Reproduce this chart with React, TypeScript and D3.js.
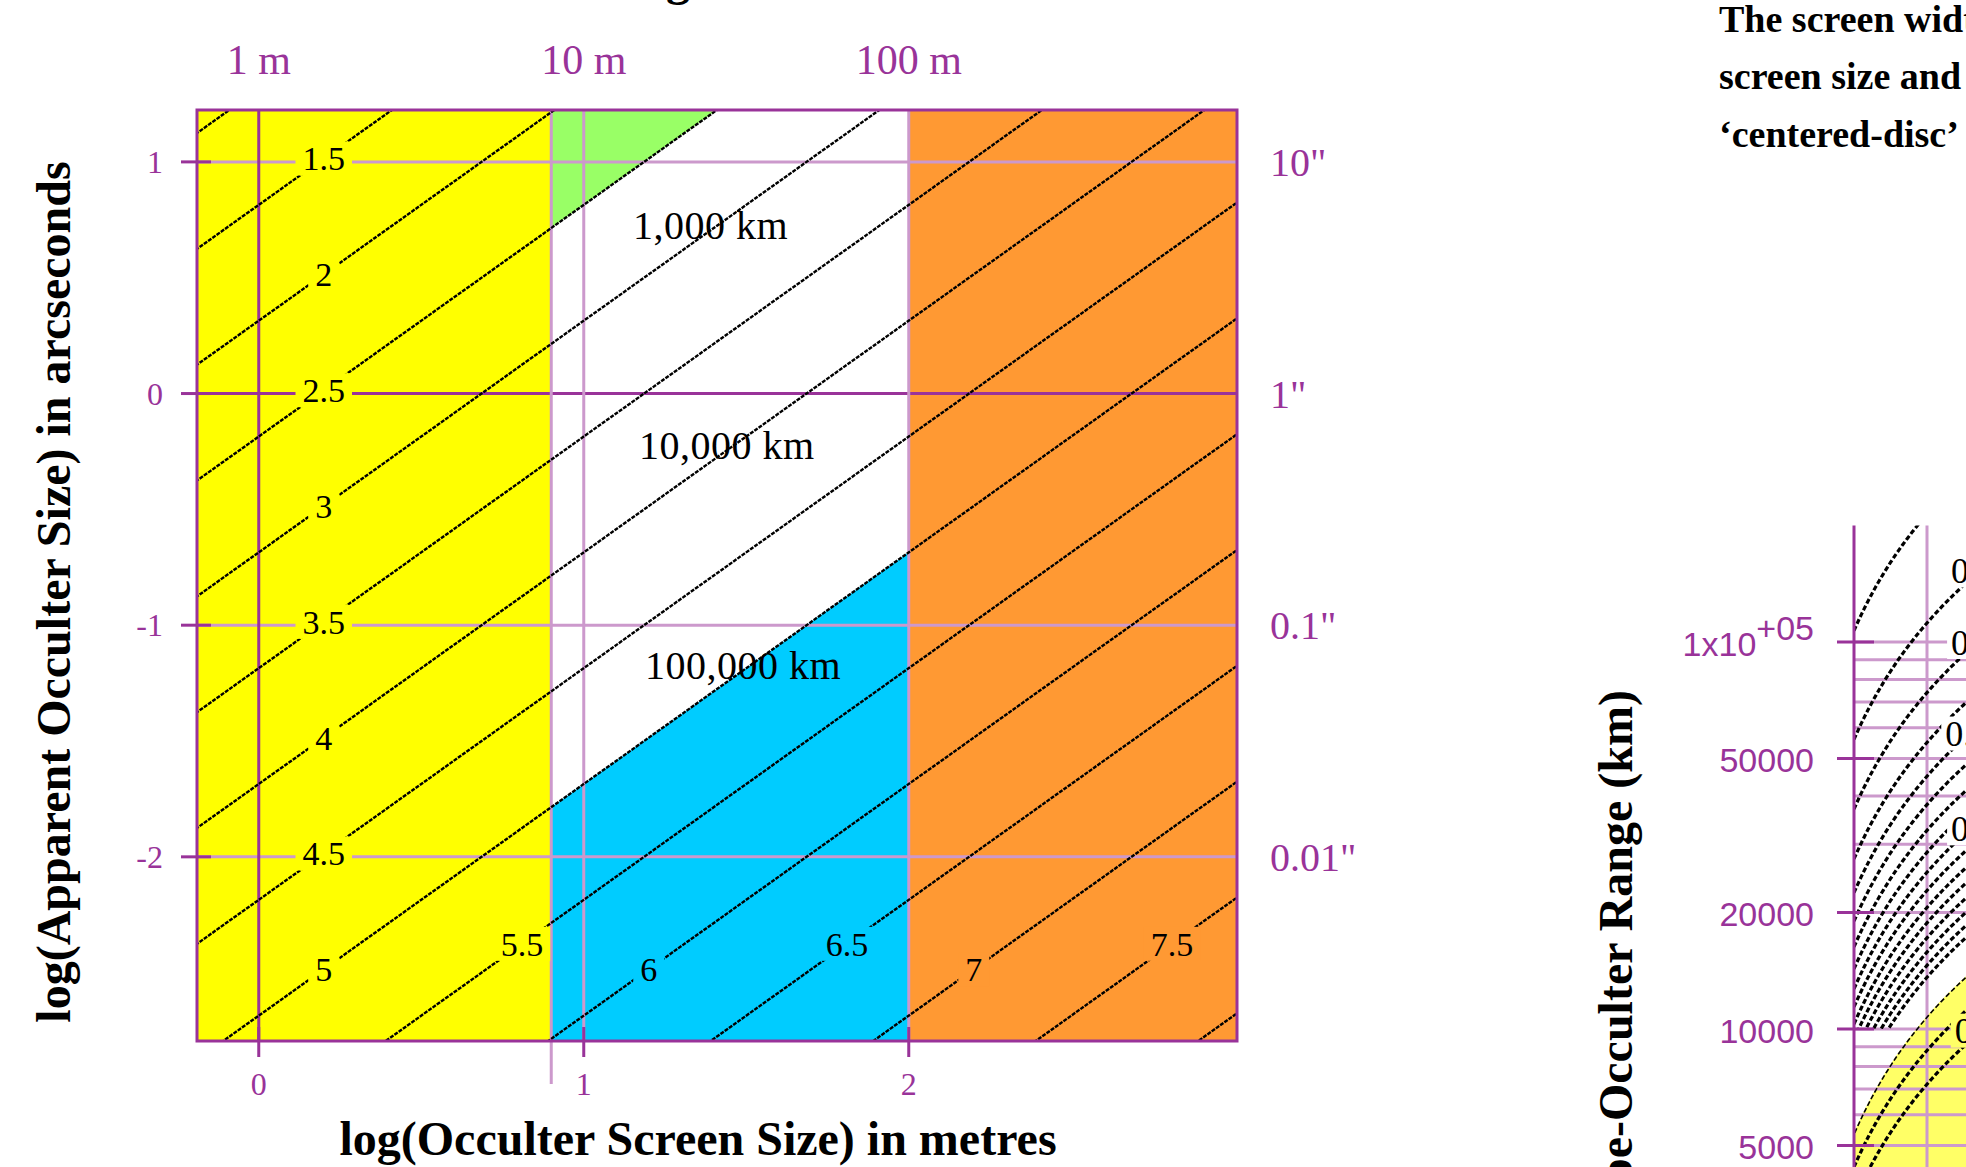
import React from "react";
import * as d3 from "d3";

const W = 1966;
const H = 1167;

// ---------------- colours ----------------
const PURPLE = "#993399";
const LILAC = "#cc99cc";
const YELLOW = "#ffff00";
const GREEN = "#99ff66";
const BLUE = "#00ccff";
const ORANGE = "#ff9933";
const PALE_YELLOW = "#ffff66";

// ---------------- left chart data ----------------
// x: log10(occulter screen size, m); y: log10(apparent size, arcsec)
const sizeLogDomain = [-0.19, 3.01];
const angleLogDomain = [-2.795, 1.224];
const sizeTicks = [0, 1, 2];
const sizeTickLabels = ["0", "1", "2"];
const sizeTopLabels = ["1 m", "10 m", "100 m"];
const angleTicks = [1, 0, -1, -2];
const angleTickLabels = ["1", "0", "-1", "-2"];
const angleRightLabels = ['10"', '1"', '0.1"', '0.01"'];
// contour levels: log10(range in km)
const rangeLevels = [1, 1.5, 2, 2.5, 3, 3.5, 4, 4.5, 5, 5.5, 6, 6.5, 7, 7.5, 8];
const ARCSEC_PER_RAD_KM = Math.log10(206264.8 / 1000);
const levelLabelValues = [1.5, 2, 2.5, 3, 3.5, 4, 4.5, 5, 5.5, 6, 6.5, 7, 7.5];
const levelLabelTexts = ["1.5", "2", "2.5", "3", "3.5", "4", "4.5", "5", "5.5", "6", "6.5", "7", "7.5"];
const levelLabelSize = [0.2, 0.2, 0.2, 0.2, 0.2, 0.2, 0.2, 0.2, 0.81, 1.2, 1.81, 2.2, 2.81];
const zoneEdges = [0.9, 2];
const greenLevel = 2.5;
const blueLevel = 5;
const bandLabels = ["1,000 km", "10,000 km", "100,000 km"];
const bandLevels = [3, 4, 5];
const bandLabelSize = [1.39, 1.44, 1.49];

// ---------------- right (partial) chart data ----------------
const rangeTicks = [100000, 50000, 20000, 10000, 5000];
const rangeTickMain = ["1x10", "50000", "20000", "10000", "5000"];
const rangeTickSup = ["+05", "", "", "", ""];
const rangeMinor = [5000, 6000, 7000, 8000, 9000, 10000, 20000, 30000, 40000, 50000, 60000, 70000, 80000, 90000, 100000];
const curveK = [107000, 56000, 37000, 27500, 22500, 19000, 16300, 14300, 12700, 11400, 10300, 9400, 8600, 7900, 7300, 6800];
const yellowEdgeK = 5400;
const yellowCurveK = [5400, 4400, 3600];
const edgeLabelText = ["0.05", "0.1", "0.15", "0.2", "0.5"];
const edgeLabelS = [2.33, 2.33, 2.25, 2.33, 2.38];
const edgeLabelR = [153000, 100000, 58000, 33000, 9900];

const SERIF = "'Liberation Serif', 'Times New Roman', serif";
const SANS = "'Liberation Sans', Arial, sans-serif";

function labelWidth(t: string, fs: number) {
  let w = 0;
  for (const c of t) w += c === "." || c === "," || c === " " ? 0.25 : c === "m" ? 0.78 : 0.5;
  return w * fs;
}

export default function App() {
  // ---- left chart scales ----
  const PL = 197, PR = 1237, PT = 110, PB = 1041;
  const x = d3.scaleLinear().domain(sizeLogDomain).range([PL, PR]);
  const y = d3.scaleLinear().domain(angleLogDomain).range([PB, PT]);
  const [sx0, sx1] = sizeLogDomain;
  const [ay0, ay1] = angleLogDomain;
  const lineY = (s: number, L: number) => s - L + ARCSEC_PER_RAD_KM;
  const path = d3
    .line<[number, number]>()
    .x((d) => x(d[0]))
    .y((d) => y(d[1]));

  const zoneColor = (s: number, a: number) => {
    if (s < zoneEdges[0]) return YELLOW;
    if (s >= zoneEdges[1]) return ORANGE;
    if (a > lineY(s, greenLevel)) return GREEN;
    if (a < lineY(s, blueLevel)) return BLUE;
    return "#ffffff";
  };

  const yellowPoly: [number, number][] = [
    [sx0, ay0], [zoneEdges[0], ay0], [zoneEdges[0], ay1], [sx0, ay1],
  ];
  const greenPoly: [number, number][] = [
    [zoneEdges[0], lineY(zoneEdges[0], greenLevel)],
    [zoneEdges[1], lineY(zoneEdges[1], greenLevel)],
    [zoneEdges[1], ay1 + 2], [zoneEdges[0], ay1 + 2],
  ];
  const bluePoly: [number, number][] = [
    [zoneEdges[0], lineY(zoneEdges[0], blueLevel)],
    [zoneEdges[1], lineY(zoneEdges[1], blueLevel)],
    [zoneEdges[1], ay0], [zoneEdges[0], ay0],
  ];
  const orangePoly: [number, number][] = [
    [zoneEdges[1], ay0], [sx1, ay0], [sx1, ay1], [zoneEdges[1], ay1],
  ];

  const labelFs = 34;
  const bandFs = 40;

  // ---- right chart scales ----
  const xR = d3.scaleLinear().domain([0, 2]).range([1781, 1927]);
  const yR = d3.scaleLog().domain([100000, 10000]).range([642, 1029]);
  const rTop = 200000;
  const sMax = 3;
  const sSamples = d3.range(0, 61).map((i) => 1 + (i * (sMax - 1)) / 60);
  const rPath = d3
    .line<[number, number]>()
    .x((d) => xR(d[0]))
    .y((d) => yR(d[1]));
  const whiteClip: [number, number][] = [
    [1, rTop], [sMax, rTop],
    ...sSamples.slice().reverse().map((s) => [s, Math.max(10000, yellowEdgeK * s)] as [number, number]),
  ];
  const yellowArea: [number, number][] = [
    ...sSamples.map((s) => [s, yellowEdgeK * s] as [number, number]),
    [sMax, 2000], [1, 2000],
  ];

  return (
    <svg
      width={W}
      height={H}
      viewBox={`0 0 ${W} ${H}`}
      style={{ position: "absolute", left: 0, top: 0, background: "#fff" }}
    >
      <defs>
        <clipPath id="plotClip">
          <rect x={PL} y={PT} width={PR - PL} height={PB - PT} />
        </clipPath>
        <clipPath id="rWhiteClip">
          <path d={rPath(whiteClip) + "Z"} />
        </clipPath>
        <clipPath id="rYellowClip">
          <path d={rPath(yellowArea) + "Z"} />
        </clipPath>
      </defs>

      {/* cut-off page title */}
      <text x={690} y={-5} textAnchor="end" fontFamily={SERIF} fontWeight="bold" fontSize={48}>
        Occulter Screen Sizing
      </text>

      {/* ================= LEFT CHART ================= */}
      <g clipPath="url(#plotClip)">
        <path d={path(yellowPoly) + "Z"} fill={YELLOW} />
        <path d={path(greenPoly) + "Z"} fill={GREEN} />
        <path d={path(bluePoly) + "Z"} fill={BLUE} />
        <path d={path(orangePoly) + "Z"} fill={ORANGE} />
      </g>

      {/* grid */}
      <g>
        {angleTicks.map((a) => (
          <line key={"hg" + a} x1={PL} x2={PR} y1={y(a)} y2={y(a)} stroke={a === 0 ? PURPLE : LILAC} strokeWidth={3} />
        ))}
        {sizeTicks.map((s) => (
          <line key={"vg" + s} x1={x(s)} x2={x(s)} y1={PT} y2={PB} stroke={s === 0 ? PURPLE : LILAC} strokeWidth={3} />
        ))}
        <line x1={x(zoneEdges[0])} x2={x(zoneEdges[0])} y1={PT} y2={1084} stroke={LILAC} strokeWidth={3} />
      </g>

      {/* contour lines */}
      <g clipPath="url(#plotClip)">
        {rangeLevels.map((L) => (
          <path
            key={"c" + L}
            d={path([[sx0 - 0.5, lineY(sx0 - 0.5, L)], [sx1 + 0.5, lineY(sx1 + 0.5, L)]])!}
            fill="none"
            stroke="#000"
            strokeWidth={2.4}
            strokeDasharray="4 1.2"
          />
        ))}
      </g>

      {/* contour labels */}
      <g fontFamily={SERIF} fontSize={labelFs}>
        {levelLabelValues.map((L, i) => {
          const s = levelLabelSize[i];
          const a = lineY(s, L);
          const w = labelWidth(levelLabelTexts[i], labelFs);
          return (
            <g key={"ll" + L}>
              <rect x={x(s) - w / 2 - 7} y={y(a) - 17} width={w + 14} height={34} fill={zoneColor(s, a)} />
              <text x={x(s)} y={y(a)} dy="0.35em" textAnchor="middle" fill="#000">
                {levelLabelTexts[i]}
              </text>
            </g>
          );
        })}
        {bandLabels.map((t, i) => (
          <text
            key={t}
            x={x(bandLabelSize[i])}
            y={y(lineY(bandLabelSize[i], bandLevels[i]))}
            dy="0.22em"
            textAnchor="middle"
            fontSize={bandFs}
            letterSpacing={0.5}
            fill="#000"
          >
            {t}
          </text>
        ))}
      </g>

      {/* ticks */}
      <g stroke={PURPLE} strokeWidth={3}>
        {angleTicks.map((a) => (
          <line key={"lt" + a} x1={181} x2={211} y1={y(a)} y2={y(a)} />
        ))}
        {sizeTicks.map((s) => (
          <line key={"bt" + s} x1={x(s)} x2={x(s)} y1={PB - 14} y2={PB + 16} />
        ))}
      </g>

      {/* border */}
      <rect x={PL} y={PT} width={PR - PL} height={PB - PT} fill="none" stroke={PURPLE} strokeWidth={3} />

      {/* tick labels */}
      <g fontFamily={SERIF} fill={PURPLE}>
        {angleTicks.map((a, i) => (
          <text key={"al" + a} x={163} y={y(a)} dy="0.35em" textAnchor="end" fontSize={32}>
            {angleTickLabels[i]}
          </text>
        ))}
        {angleTicks.map((a, i) => (
          <text key={"ar" + a} x={1270} y={y(a)} dy="0.35em" textAnchor="start" fontSize={40}>
            {angleRightLabels[i]}
          </text>
        ))}
        {sizeTicks.map((s, i) => (
          <text key={"sb" + s} x={x(s)} y={1095} textAnchor="middle" fontSize={32}>
            {sizeTickLabels[i]}
          </text>
        ))}
        {sizeTicks.map((s, i) => (
          <text key={"st" + s} x={x(s)} y={74} textAnchor="middle" fontSize={42}>
            {sizeTopLabels[i]}
          </text>
        ))}
      </g>

      {/* axis titles */}
      <text x={698} y={1155} textAnchor="middle" fontFamily={SERIF} fontWeight="bold" fontSize={48}>
        log(Occulter Screen Size) in metres
      </text>
      <text
        transform={`translate(70, 592) rotate(-90)`}
        textAnchor="middle"
        fontFamily={SERIF}
        fontWeight="bold"
        fontSize={48}
      >
        log(Apparent Occulter Size) in arcseconds
      </text>

      {/* ================= RIGHT (PARTIAL) CHART ================= */}
      <path d={rPath(yellowArea) + "Z"} fill={PALE_YELLOW} />
      <g stroke={LILAC} strokeWidth={3}>
        {rangeMinor.map((r) => (
          <line key={"rm" + r} x1={xR(1)} x2={W} y1={yR(r)} y2={yR(r)} />
        ))}
        <line x1={xR(2)} x2={xR(2)} y1={yR(rTop)} y2={H} />
      </g>
      <g clipPath="url(#rWhiteClip)" fill="none" stroke="#000" strokeWidth={3.2} strokeDasharray="5 2.5">
        {curveK.map((k) => (
          <path key={"k" + k} d={rPath(sSamples.map((s) => [s, k * s] as [number, number]))!} />
        ))}
      </g>
      <g clipPath="url(#rYellowClip)" fill="none" stroke="#000" strokeWidth={3.2} strokeDasharray="5 2.5">
        {yellowCurveK.map((k) => (
          <path key={"yk" + k} d={rPath(sSamples.map((s) => [s, k * s] as [number, number]))!} />
        ))}
      </g>
      <g fontFamily={SERIF} fontSize={36}>
        {edgeLabelText.map((t, i) => (
          <g key={"el" + i}>
            <rect x={xR(edgeLabelS[i]) - 4} y={yR(edgeLabelR[i]) - 17} width={80} height={34} fill={edgeLabelR[i] < 10500 ? PALE_YELLOW : "#fff"} />
            <text x={xR(edgeLabelS[i])} y={yR(edgeLabelR[i])} dy="0.35em" fill="#000">
              {t}
            </text>
          </g>
        ))}
      </g>
      <line x1={xR(1)} x2={xR(1)} y1={yR(rTop)} y2={H} stroke={PURPLE} strokeWidth={3} />
      <g stroke={PURPLE} strokeWidth={3}>
        {rangeTicks.map((r) => (
          <line key={"rt" + r} x1={1837} x2={1874} y1={yR(r)} y2={yR(r)} />
        ))}
      </g>
      <g fontFamily={SANS} fontSize={34} fill={PURPLE}>
        {rangeTicks.map((r, i) => (
          <text key={"rl" + r} x={1814} y={yR(r)} dy="0.4em" textAnchor="end">
            {rangeTickMain[i]}
            {rangeTickSup[i] ? (
              <tspan dy="-0.45em">{rangeTickSup[i]}</tspan>
            ) : null}
          </text>
        ))}
      </g>
      <text
        transform={`translate(1632, 690) rotate(-90)`}
        textAnchor="end"
        fontFamily={SERIF}
        fontWeight="bold"
        fontSize={48}
      >
        Telescope-Occulter Range (km)
      </text>

      {/* cut-off page text */}
      <g fontFamily={SERIF} fontWeight="bold" fontSize={38}>
        <text x={1719} y={32}>The screen width</text>
        <text x={1719} y={89}>screen size and</text>
        <text x={1719} y={147}>{"\u2018centered-disc\u2019"}</text>
      </g>
    </svg>
  );
}
